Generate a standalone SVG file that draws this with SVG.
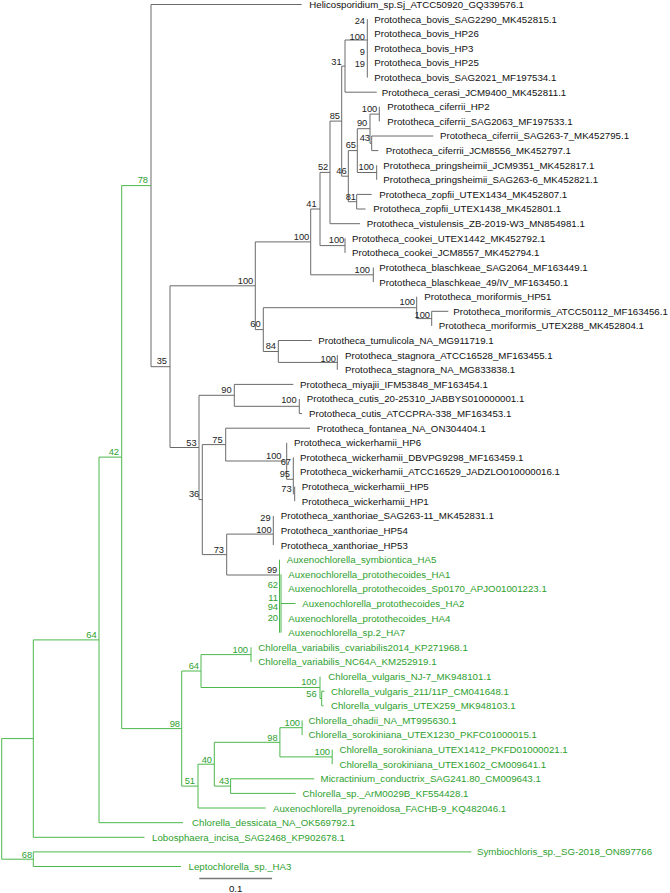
<svg xmlns="http://www.w3.org/2000/svg" width="670" height="893" viewBox="0 0 670 893">
<style>
text{font-family:"Liberation Sans",Arial,sans-serif;}
.t{font-size:9.7px;fill:#111;}
.tg{font-size:9.7px;fill:#2ea02e;}
.b{font-size:9.3px;fill:#222;text-anchor:end;}
.bg{font-size:9.3px;fill:#2ea02e;text-anchor:end;}
.ln{fill:none;stroke:#6a6a6a;stroke-width:1;}
.lg{fill:none;stroke:#4cb84c;stroke-width:1;}
</style>
<rect width="670" height="893" fill="#fff"/>
<g id="connectors">
<path class="ln" d="M151 4.5H301.7M151 4.5V366.7M151 366.7H170M170 285.8V447.5M170 285.8H255.3M255.3 241.9V329.6M255.3 241.9H310.7M310.7 209V274.8M310.7 209H320M320 172.4V245.6M320 172.4H330M330 121.1V223.7M330 223.7H360M330 121.1H341.7M341.7 66.1V176.2M341.7 66.1H345M345 40V92.2M345 40H367.3M367.3 19.1V77.6M345 92.2H376.7M341.7 176.2H348.3M348.3 150.6V201.7M348.3 150.6H357.3M357.3 128.7V172.5M357.3 128.7H370M370 114.1V143.3M370 114.1H379.3M379.3 106.8V121.4M370 143.3H371.7M371.7 136V150.6M371.7 136H433.3M371.7 150.6H378.3M357.3 172.5H376.7M376.7 165.2V179.8M348.3 201.7H356.7M356.7 194.4V209M356.7 194.4H371.7M356.7 209H365.5M320 245.6H345M345 238.3V252.9M310.7 274.8H373.3M373.3 267.5V282.1"/>
<path class="ln" d="M255.3 329.6H263.3M263.3 307.7V351.5M263.3 307.7H416.7M416.7 296.7V318.6M416.7 318.6H431.7M431.7 311.3V325.9M431.7 311.3H448.3M263.3 351.5H278.3M278.3 340.5V362.4M278.3 340.5H311.7M278.3 362.4H337.3M337.3 355.1V369.8"/>
<path class="ln" d="M170 447.5H199M199 395.3V499.6M199 395.3H234.3M234.3 384.4V406.3M234.3 384.4H293.3M234.3 406.3H299.3M299.3 399V413.6H302M199 499.6H202.3M202.3 444.6V554.6M202.3 444.6H225.7M225.7 428.2V461M225.7 428.2H310M225.7 461H286.7M286.7 442.8V479.3M286.7 479.3H293.3M293.3 457.4V493.9M293.3 493.9H294.7M294.7 486.6V501.2M202.3 554.6H226.7M226.7 534.1V575M226.7 534.1H273.3M273.3 515.9V545.1M226.7 575H279.5"/>
<path class="lg" d="M121.7 185.6H151M279.5 559.7V632.7M281 574.3V632.7M281 603.5H295.5M99 457.1H121.7M121.7 185.6V728.6M121.7 728.6H181.7M181.7 671V786.1M181.7 671H201M201 654.6V687.5M201 654.6H251M251 647.3V662M201 687.5H320M320 676.6V698.5H321.7M321.7 691.2V705.8M321.7 691.2H324.5M321.7 705.8H323.5M181.7 786.1H198M198 764.2V808M198 808H265.7M198 764.2H214.3M214.3 742.3V786.1M214.3 742.3H279.9M279.9 727.7V756.9M279.9 727.7H302.1M302.1 720.4V735M279.9 756.9H332.2M332.2 749.6V764.2M214.3 786.1H230.6M230.6 778.8V793.4M230.6 778.8H314.2M230.6 793.4H295.7M33.3 639.9H99M99 457.1V822.7M99 822.7H183M1.7 738.6H33.3M33.3 639.9V837.3M33.3 837.3H144.5M1.7 738.6V859.2H33.3M33.3 851.9V866.5M33.3 851.9H471.4M33.3 866.5H181"/>
</g>
<g id="leaves">
<g id="leaf1"><text class="t" x="309.3" y="7.9">Helicosporidium_sp.Sj_ATCC50920_GQ339576.1</text></g>
<g id="leaf2"><text class="t" x="374.3" y="22.5">Prototheca_bovis_SAG2290_MK452815.1</text></g>
<g id="leaf3"><text class="t" x="374.3" y="37.1">Prototheca_bovis_HP26</text></g>
<g id="leaf4"><text class="t" x="374.3" y="51.7">Prototheca_bovis_HP3</text></g>
<g id="leaf5"><text class="t" x="374.3" y="66.3">Prototheca_bovis_HP25</text></g>
<g id="leaf6"><text class="t" x="374.3" y="81">Prototheca_bovis_SAG2021_MF197534.1</text></g>
<g id="leaf7"><text class="t" x="381.7" y="95.6">Prototheca_cerasi_JCM9400_MK452811.1</text></g>
<g id="leaf8"><text class="t" x="387.3" y="110.2">Prototheca_ciferrii_HP2</text></g>
<g id="leaf9"><text class="t" x="387.3" y="124.8">Prototheca_ciferrii_SAG2063_MF197533.1</text></g>
<g id="leaf10"><text class="t" x="440" y="139.4">Prototheca_ciferrii_SAG263-7_MK452795.1</text></g>
<g id="leaf11"><text class="t" x="385.7" y="154">Prototheca_ciferrii_JCM8556_MK452797.1</text></g>
<g id="leaf12"><text class="t" x="383.3" y="168.6">Prototheca_pringsheimii_JCM9351_MK452817.1</text></g>
<g id="leaf13"><text class="t" x="383.3" y="183.2">Prototheca_pringsheimii_SAG263-6_MK452821.1</text></g>
<g id="leaf14"><text class="t" x="379.3" y="197.8">Prototheca_zopfii_UTEX1434_MK452807.1</text></g>
<g id="leaf15"><text class="t" x="373.3" y="212.4">Prototheca_zopfii_UTEX1438_MK452801.1</text></g>
<g id="leaf16"><text class="t" x="366.7" y="227.1">Prototheca_vistulensis_ZB-2019-W3_MN854981.1</text></g>
<g id="leaf17"><text class="t" x="352" y="241.7">Prototheca_cookei_UTEX1442_MK452792.1</text></g>
<g id="leaf18"><text class="t" x="352" y="256.3">Prototheca_cookei_JCM8557_MK452794.1</text></g>
<g id="leaf19"><text class="t" x="379.3" y="270.9">Prototheca_blaschkeae_SAG2064_MF163449.1</text></g>
<g id="leaf20"><text class="t" x="379.3" y="285.5">Prototheca_blaschkeae_49/IV_MF163450.1</text></g>
<g id="leaf21"><text class="t" x="424.3" y="300.1">Prototheca_moriformis_HP51</text></g>
<g id="leaf22"><text class="t" x="453.3" y="314.7">Prototheca_moriformis_ATCC50112_MF163456.1</text></g>
<g id="leaf23"><text class="t" x="438.7" y="329.3">Prototheca_moriformis_UTEX288_MK452804.1</text></g>
<g id="leaf24"><text class="t" x="318.3" y="343.9">Prototheca_tumulicola_NA_MG911719.1</text></g>
<g id="leaf25"><text class="t" x="345" y="358.5">Prototheca_stagnora_ATCC16528_MF163455.1</text></g>
<g id="leaf26"><text class="t" x="345" y="373.2">Prototheca_stagnora_NA_MG833838.1</text></g>
<g id="leaf27"><text class="t" x="300" y="387.8">Prototheca_miyajii_IFM53848_MF163454.1</text></g>
<g id="leaf28"><text class="t" x="306.7" y="402.4">Prototheca_cutis_20-25310_JABBYS010000001.1</text></g>
<g id="leaf29"><text class="t" x="309" y="417">Prototheca_cutis_ATCCPRA-338_MF163453.1</text></g>
<g id="leaf30"><text class="t" x="316.7" y="431.6">Prototheca_fontanea_NA_ON304404.1</text></g>
<g id="leaf31"><text class="t" x="294" y="446.2">Prototheca_wickerhamii_HP6</text></g>
<g id="leaf32"><text class="t" x="300" y="460.8">Prototheca_wickerhamii_DBVPG9298_MF163459.1</text></g>
<g id="leaf33"><text class="t" x="300" y="475.4">Prototheca_wickerhamii_ATCC16529_JADZLO010000016.1</text></g>
<g id="leaf34"><text class="t" x="301.7" y="490">Prototheca_wickerhamii_HP5</text></g>
<g id="leaf35"><text class="t" x="301.7" y="504.6">Prototheca_wickerhamii_HP1</text></g>
<g id="leaf36"><text class="t" x="280.7" y="519.3">Prototheca_xanthoriae_SAG263-11_MK452831.1</text></g>
<g id="leaf37"><text class="t" x="280.7" y="533.9">Prototheca_xanthoriae_HP54</text></g>
<g id="leaf38"><text class="t" x="280.7" y="548.5">Prototheca_xanthoriae_HP53</text></g>
<g id="leaf39"><text class="tg" x="286.7" y="563.1">Auxenochlorella_symbiontica_HA5</text></g>
<g id="leaf40"><text class="tg" x="288.3" y="577.7">Auxenochlorella_protothecoides_HA1</text></g>
<g id="leaf41"><text class="tg" x="288.3" y="592.3">Auxenochlorella_protothecoides_Sp0170_APJO01001223.1</text></g>
<g id="leaf42"><text class="tg" x="302.3" y="606.9">Auxenochlorella_protothecoides_HA2</text></g>
<g id="leaf43"><text class="tg" x="288.3" y="621.5">Auxenochlorella_protothecoides_HA4</text></g>
<g id="leaf44"><text class="tg" x="288.3" y="636.1">Auxenochlorella_sp.2_HA7</text></g>
<g id="leaf45"><text class="tg" x="258.3" y="650.7">Chlorella_variabilis_cvariabilis2014_KP271968.1</text></g>
<g id="leaf46"><text class="tg" x="258.3" y="665.4">Chlorella_variabilis_NC64A_KM252919.1</text></g>
<g id="leaf47"><text class="tg" x="328.3" y="680">Chlorella_vulgaris_NJ-7_MK948101.1</text></g>
<g id="leaf48"><text class="tg" x="331" y="694.6">Chlorella_vulgaris_211/11P_CM041648.1</text></g>
<g id="leaf49"><text class="tg" x="330.9" y="709.2">Chlorella_vulgaris_UTEX259_MK948103.1</text></g>
<g id="leaf50"><text class="tg" x="308.6" y="723.8">Chlorella_ohadii_NA_MT995630.1</text></g>
<g id="leaf51"><text class="tg" x="308.6" y="738.4">Chlorella_sorokiniana_UTEX1230_PKFC01000015.1</text></g>
<g id="leaf52"><text class="tg" x="339.4" y="753">Chlorella_sorokiniana_UTEX1412_PKFD01000021.1</text></g>
<g id="leaf53"><text class="tg" x="339.4" y="767.6">Chlorella_sorokiniana_UTEX1602_CM009641.1</text></g>
<g id="leaf54"><text class="tg" x="320.6" y="782.2">Micractinium_conductrix_SAG241.80_CM009643.1</text></g>
<g id="leaf55"><text class="tg" x="302.6" y="796.8">Chlorella_sp._ArM0029B_KF554428.1</text></g>
<g id="leaf56"><text class="tg" x="273" y="811.5">Auxenochlorella_pyrenoidosa_FACHB-9_KQ482046.1</text></g>
<g id="leaf57"><text class="tg" x="192" y="826.1">Chlorella_dessicata_NA_OK569792.1</text></g>
<g id="leaf58"><text class="tg" x="152.1" y="840.7">Lobosphaera_incisa_SAG2468_KP902678.1</text></g>
<g id="leaf59"><text class="tg" x="477" y="855.3">Symbiochloris_sp._SG-2018_ON897766</text></g>
<g id="leaf60"><text class="tg" x="188.6" y="869.9">Leptochlorella_sp._HA3</text></g>
</g>
<g id="support">
<text class="b" x="365" y="24">24</text>
<text class="b" x="365" y="40">100</text>
<text class="b" x="365" y="55">9</text>
<text class="b" x="365" y="67.3">19</text>
<text class="b" x="341.7" y="65">31</text>
<text class="b" x="340" y="119.3">85</text>
<text class="b" x="367.3" y="126">90</text>
<text class="b" x="377.3" y="111.6">100</text>
<text class="b" x="370" y="140.6">43</text>
<text class="b" x="356" y="148.3">65</text>
<text class="b" x="374" y="170">100</text>
<text class="b" x="346.7" y="174.3">46</text>
<text class="b" x="328.3" y="170">52</text>
<text class="b" x="356" y="200">81</text>
<text class="b" x="316.7" y="206.6">41</text>
<text class="b" x="309.3" y="239.6">100</text>
<text class="b" x="344.3" y="243.3">100</text>
<text class="b" x="370" y="273.3">100</text>
<text class="b" x="253.3" y="283.6">100</text>
<text class="b" x="415" y="305">100</text>
<text class="b" x="430" y="318.3">100</text>
<text class="b" x="260.7" y="327.3">60</text>
<text class="b" x="276" y="349.3">84</text>
<text class="b" x="336" y="361.6">100</text>
<text class="b" x="167" y="364.3">35</text>
<text class="b" x="231.7" y="392.6">90</text>
<text class="b" x="296.7" y="403.3">100</text>
<text class="b" x="222.7" y="442.6">75</text>
<text class="b" x="196.7" y="445.6">53</text>
<text class="b" x="281.5" y="458.6">100</text>
<text class="b" x="291" y="465.2">67</text>
<text class="b" x="290" y="477.3">95</text>
<text class="b" x="291.7" y="491.6">73</text>
<text class="b" x="199.3" y="497.3">36</text>
<text class="b" x="270.7" y="520.6">29</text>
<text class="b" x="271.7" y="532.6">100</text>
<text class="b" x="224" y="552.6">73</text>
<text class="b" x="277.3" y="572.6">99</text>
<text class="bg" x="278" y="587.8">62</text>
<text class="bg" x="278" y="600.6">11</text>
<text class="bg" x="278" y="609.5">94</text>
<text class="bg" x="278" y="620.6">20</text>
<text class="bg" x="148" y="183.3">78</text>
<text class="bg" x="119" y="455">42</text>
<text class="bg" x="96.7" y="637.6">64</text>
<text class="bg" x="32.1" y="857.6">68</text>
<text class="bg" x="180" y="726.6">98</text>
<text class="bg" x="199" y="669.3">64</text>
<text class="bg" x="248" y="652.6">100</text>
<text class="bg" x="316.7" y="685">100</text>
<text class="bg" x="316.7" y="697.3">56</text>
<text class="bg" x="195" y="784">51</text>
<text class="bg" x="212" y="762.6">40</text>
<text class="bg" x="277.7" y="740.6">98</text>
<text class="bg" x="300" y="726">100</text>
<text class="bg" x="330" y="755">100</text>
<text class="bg" x="229.3" y="784.3">43</text>
</g>
<g id="scalebar">
<line x1="199.3" y1="878.5" x2="272.1" y2="878.5" stroke="#777" stroke-width="1.5"/>
<text class="t" x="235.7" y="891.8" text-anchor="middle">0.1</text>
</g>
</svg>
